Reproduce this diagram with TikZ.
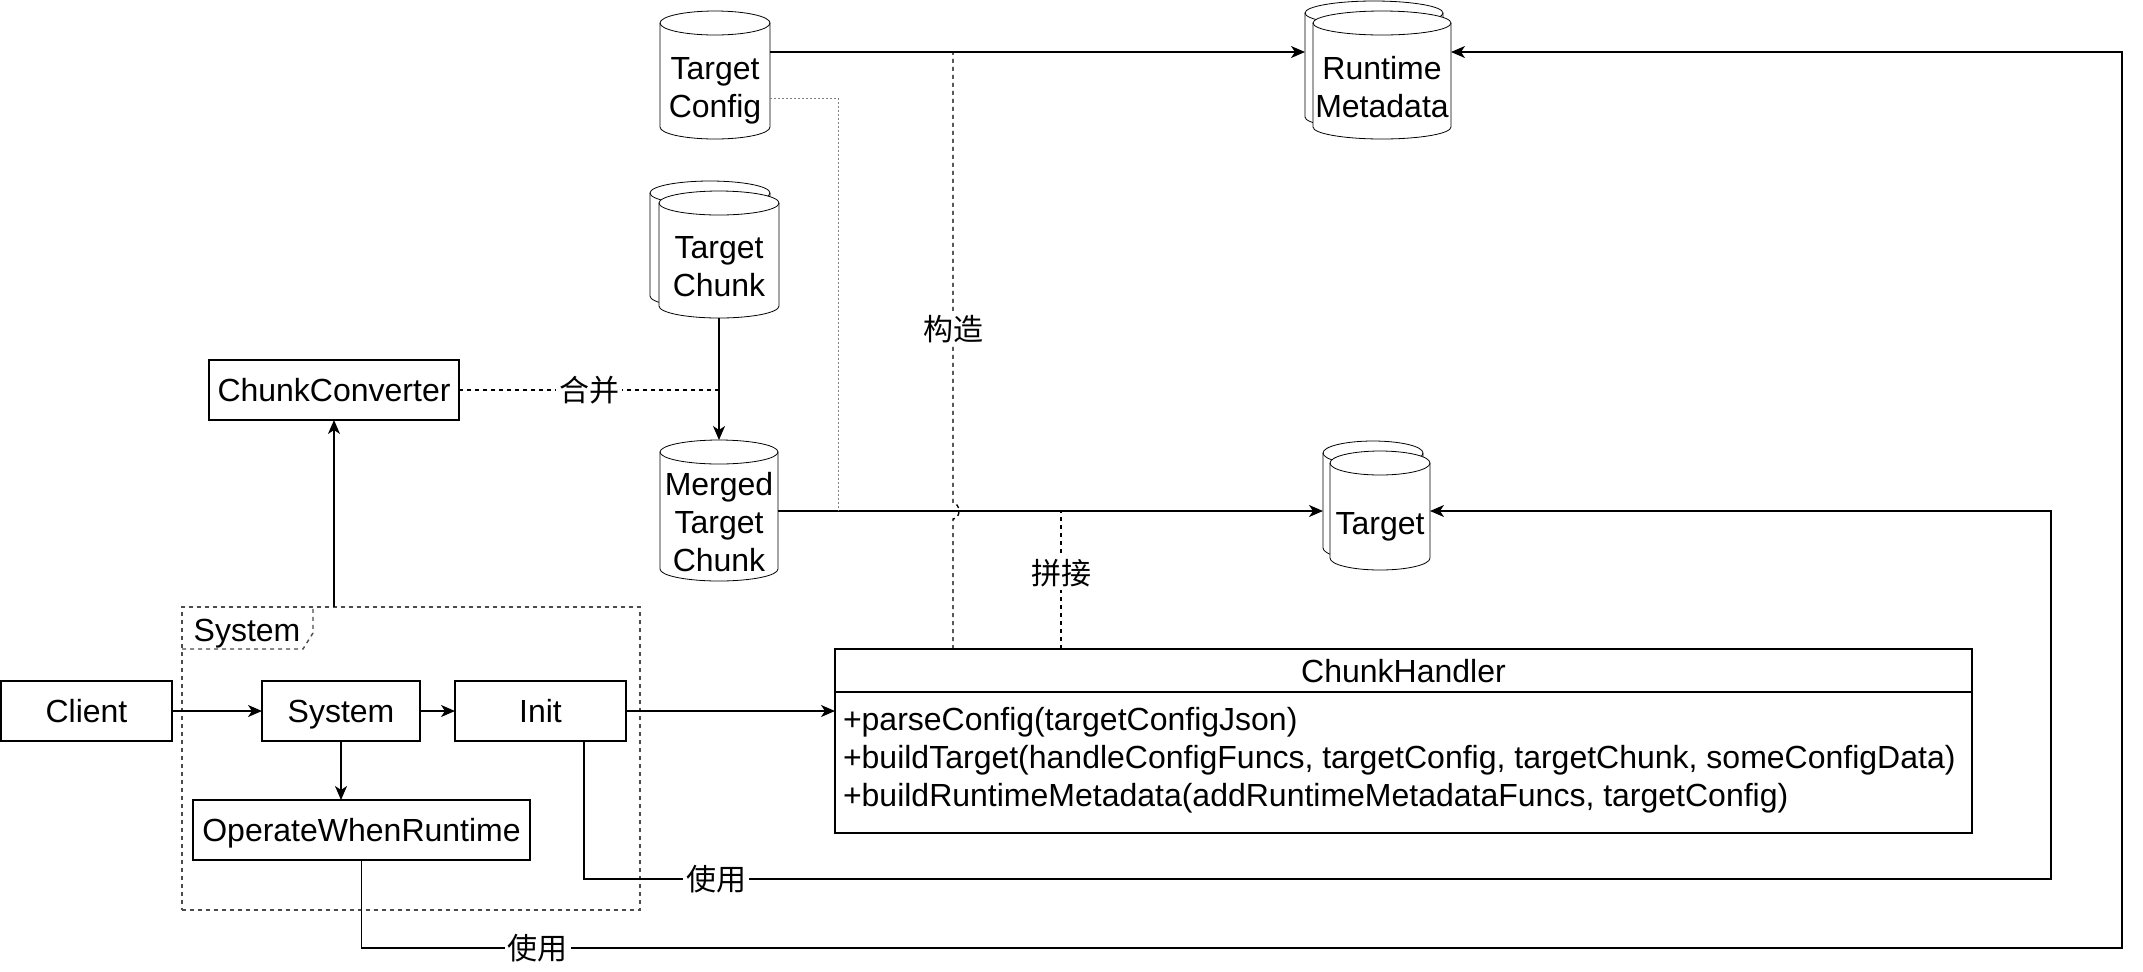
\documentclass[tikz,border=0pt]{standalone}
\usepackage{fontspec}
\setmainfont{Liberation Sans}
\newfontfamily\cjk{Noto Sans CJK SC}
\usetikzlibrary{positioning, arrows.meta, shapes.multipart, backgrounds}

% cylinder round a body node: #1 node, #2 half width
\newcommand{\dbcyl}[2]{%
  \draw[dbline] ([yshift=6pt]#1.north west) -- ([yshift=6pt]#1.south west)
    arc[start angle=180, end angle=360, x radius=#2, y radius=6pt]
    -- ([yshift=6pt]#1.north east)
    arc[start angle=0, end angle=180, x radius=#2, y radius=6pt] -- cycle;
  \draw ([yshift=6pt]#1.north west)
    arc[start angle=180, end angle=360, x radius=#2, y radius=6pt];
}

\begin{document}
\begin{tikzpicture}[x=0.5pt, y=-0.5pt, line width=0.7pt,
    font=\fontsize{16}{19}\selectfont,
    box/.style = {draw, rectangle, minimum width=#1, minimum height=30pt,
      text height=11.5pt, text depth=0pt, inner sep=0pt, outer sep=0pt},
    dbbody/.style = {rectangle, align=center, inner sep=0pt, outer sep=0pt},
    dbline/.style = {draw, fill=white},
    arr/.style = {-{Stealth[length=7pt, width=6pt, inset=2pt]}},
    dsh/.style = {dash pattern=on 2pt off 2pt},
    lbl/.style = {fill=white, inner sep=1.5pt, font=\cjk\fontsize{15}{18}\selectfont},
  ]
\useasboundingbox (0,0) rectangle (2143,971);

% boxes
\node[box=85.5pt] (client) at (86.5,711) {Client};
\node[box=79pt] (sys) at (341,711) {System};
\node[box=85.5pt] (init) at (540.5,711) {Init};
\node[box=168.5pt] (owr) at (361.5,830) {OperateWhenRuntime};
\node[box=125pt] (cconv) at (334,390) {ChunkConverter};

% system frame
\node[draw=black!70, dsh, minimum width=229pt, minimum height=151.5pt,
      inner sep=0pt, outer sep=0pt] (frame) at (411,758.5) {};
\draw[black!70, dsh] ([yshift=-21pt]frame.north west) -- ++(121,0)
    -- ++(10,-16) -- ++(0,-26);
\node[anchor=west, inner sep=0pt, text height=11.5pt, text depth=0pt] (frametitle)
    at (193,630) {System};

% stores
\node[dbbody, minimum width=55pt, minimum height=52pt, text depth=0pt] (tcfg)
    at (715,87) {Target\\Config};
\node[dbbody, minimum width=69pt, minimum height=52pt] (rtmeta) at (1382,87) {Runtime\\Metadata};
\node[dbbody, minimum width=69pt, minimum height=52pt] (rtmeta-bk)
    at ([shift={(-4pt,5pt)}]rtmeta.center) {};
\node[dbbody, minimum width=60pt, minimum height=51.5pt] (tchunk) at (719,266.5) {Target\\Chunk};
\node[dbbody, minimum width=60pt, minimum height=51.5pt] (tchunk-bk)
    at ([shift={(-4.5pt,5pt)}]tchunk.center) {};
\node[dbbody, minimum width=59pt, minimum height=58.5pt] (mtc) at (719,522.5) {Merged\\Target\\Chunk};
\node[dbbody, minimum width=50pt, minimum height=47.5pt, text height=11.5pt, text depth=0pt] (tgt)
    at (1380,522.5) {Target};
\node[dbbody, minimum width=50pt, minimum height=47.5pt] (tgt-bk)
    at ([shift={(-3.5pt,5pt)}]tgt.center) {};

% handler class
\node[rectangle split, rectangle split parts=2, draw, line width=1pt,
      anchor=north west, minimum width=568.5pt, inner xsep=4pt, inner ysep=0pt,
      outer sep=0pt, align=left, rectangle split part align={center,left}] (chandler)
    at (835,649)
    {\nodepart{one}\rule[-4.5pt]{0pt}{20.5pt}ChunkHandler
     \nodepart{two}\rule{0pt}{18.75pt}+parseConfig(targetConfigJson)\\
       +buildTarget(handleConfigFuncs, targetConfig, targetChunk, someConfigData)\\
       +buildRuntimeMetadata(addRuntimeMetadataFuncs, targetConfig)\rule[-12.5pt]{0pt}{12.5pt}};

\coordinate (yTop) at (0,52);
\coordinate (yMid) at (0,511);
\coordinate (yCfg) at (0,98);
\coordinate (xBuild) at (953,0);
\coordinate (xJoin) at (1061,0);
\coordinate (xDot) at (838,0);
\coordinate (loopA) at (2122,948);
\coordinate (loopB) at (2051,879);

% connectors
\draw[arr] (client) -- (sys);
\draw[arr] (sys) -- (init);
\draw[arr] (sys.south) -- (sys.south |- owr.north);
\draw[arr] (init.east) -- (init.east -| chandler.west);
\draw[arr] (frame.north -| cconv.south) -- (cconv.south);
\draw[dsh] (cconv.east) -- node[lbl] {合并} (cconv.east -| tchunk.south);
\draw[arr] (tchunk.south) -- ([yshift=12pt]mtc.north);
\draw[arr] (tcfg.east |- yTop) -- (rtmeta-bk.west |- yTop);
\draw[arr] (mtc.east |- yMid) -- (tgt-bk.west |- yMid);
\draw[gray, line width=0.5pt, dash pattern=on 1pt off 1pt]
    (tcfg.east |- yCfg) -| (xDot |- yMid);
\draw[dsh] (chandler.north -| xBuild) -- ([yshift=-4pt]xBuild |- yMid)
    arc[start angle=-90, end angle=90, x radius=3pt, y radius=4pt]
    -- node[lbl, pos=0.386] {构造} (xBuild |- yTop);
\draw[dsh] (chandler.north -| xJoin) -- node[lbl, pos=0.55] {拼接} (xJoin |- yMid);
\draw[arr] (owr.south) -- (owr.south |- loopA)
    -- node[lbl, pos=0.1] {使用} (loopA) -- (loopA |- yTop) -- (rtmeta.east |- yTop);
\draw[arr] ([xshift=21.75pt]init.south) coordinate (b0) -- (b0 |- loopB)
    -- node[lbl, pos=0.09] {使用} (loopB) -- (loopB |- yMid) -- (tgt.east |- yMid);

\begin{scope}[on background layer]
  \dbcyl{tcfg}{27.5pt}
  \dbcyl{rtmeta-bk}{34.5pt}
  \dbcyl{rtmeta}{34.5pt}
  \dbcyl{tchunk-bk}{30pt}
  \dbcyl{tchunk}{30pt}
  \dbcyl{mtc}{29.5pt}
  \dbcyl{tgt-bk}{25pt}
  \dbcyl{tgt}{25pt}
\end{scope}
\end{tikzpicture}
\end{document}
